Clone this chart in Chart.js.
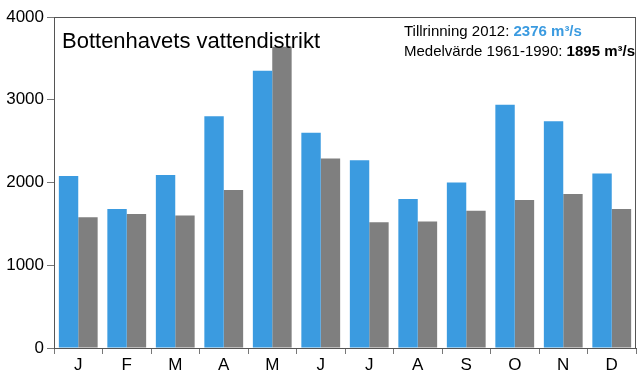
<!DOCTYPE html>
<html><head><meta charset="utf-8">
<script src="https://cdn.jsdelivr.net/npm/chart.js@4"></script>
<style>html,body{margin:0;padding:0;background:#fff}#wrap{width:639px;height:388px}</style>
</head><body><div id="wrap"><canvas id="c" width="639" height="388"></canvas></div>
<script>
const months = ["J","F","M","A","M","J","J","A","S","O","N","D"];
const flow2012 = [2080,1680,2090,2800,3350,2600,2270,1800,2000,2940,2740,2110];
const mean19611990 = [1580,1620,1600,1910,3640,2290,1520,1530,1660,1790,1860,1680];
const yTicks = [0,1000,2000,3000,4000];
const titleText = "Bottenhavets vattendistrikt";
const line1Label = "Tillrinning 2012: ", line1Value = "2376 m³/s";
const line2Label = "Medelvärde 1961-1990: ", line2Value = "1895 m³/s";

const FONT = "'Liberation Sans', Arial, sans-serif";
const overlay = {
  id:'overlay',
  afterDraw(chart){
    const ctx = chart.ctx, a = chart.chartArea;
    ctx.save();
    ctx.strokeStyle = '#555'; ctx.lineWidth = 1;
    ctx.strokeRect(Math.round(a.left)+0.5, Math.round(a.top)+0.5, Math.round(a.right-a.left)-1, Math.round(a.bottom-a.top));
    ctx.fillStyle = '#000';
    ctx.textBaseline = 'alphabetic';
    ctx.font = "22px " + FONT;
    ctx.fillText(titleText, a.left + 8, a.top + 31);
    ctx.font = "15px " + FONT;
    const x0 = 404;
    ctx.fillText(line1Label, x0, a.top + 19);
    let w = ctx.measureText(line1Label).width;
    ctx.font = "bold 15px " + FONT; ctx.fillStyle = '#3b9be0';
    ctx.fillText(line1Value, x0 + w, a.top + 19);
    ctx.font = "15px " + FONT; ctx.fillStyle = '#000';
    ctx.fillText(line2Label, x0, a.top + 39);
    w = ctx.measureText(line2Label).width;
    ctx.font = "bold 15px " + FONT;
    ctx.fillText(line2Value, x0 + w, a.top + 39);
    ctx.restore();
  }
};

new Chart(document.getElementById('c'), {
  type:'bar',
  data:{labels:months, datasets:[
    {label:'2012', data:flow2012, backgroundColor:'#3b9be0', borderWidth:0},
    {label:'1961-1990', data:mean19611990, backgroundColor:'#7f7f7f', borderWidth:0}
  ]},
  options:{
    responsive:false, animation:false,
    layout:{padding:{top:17,right:3,left:0,bottom:0}},
    plugins:{legend:{display:false}, tooltip:{enabled:false}},
    datasets:{bar:{categoryPercentage:0.8, barPercentage:1.0}},
    scales:{
      x:{
        grid:{display:true, drawOnChartArea:false, drawTicks:true, tickLength:6, color:'#777'},
        border:{display:true, color:'#555'},
        ticks:{color:'#000', font:{family:FONT, size:17}, padding:1},
        afterFit(s){ s.height = 40; }
      },
      y:{
        min:0, max:4000,
        afterBuildTicks(s){ s.ticks = yTicks.map(v=>({value:v})); },
        grid:{display:true, drawOnChartArea:false, drawTicks:true, tickLength:7, color:'#777'},
        border:{display:true, color:'#555'},
        ticks:{color:'#000', font:{family:FONT, size:17}, padding:3, callback:(v)=>String(v)},
        afterFit(s){ s.width = 54; }
      }
    }
  },
  plugins:[overlay]
});
</script></body></html>
